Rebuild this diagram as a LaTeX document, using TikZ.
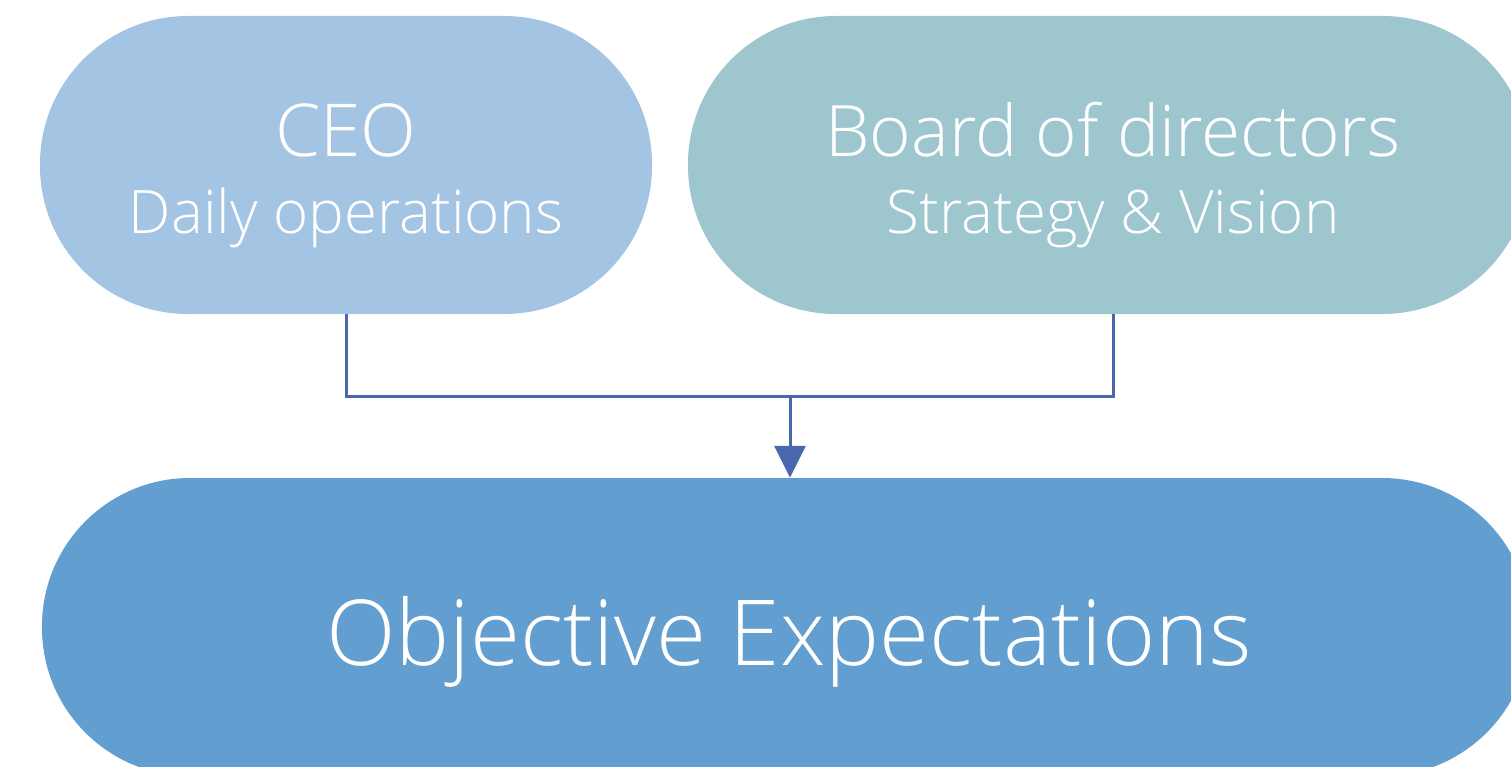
\documentclass[tikz,border=0pt]{standalone}
\usepackage{fontspec}
\setmainfont{Open Sans Light}
\usetikzlibrary{arrows.meta}
\definecolor{ceoc}{HTML}{A3C4E2}
\definecolor{boardc}{HTML}{9DC6CE}
\definecolor{objc}{HTML}{629ECF}
\definecolor{linec}{HTML}{4A66AC}
\tikzset{
  pill/.style={rectangle, rounded corners=148pt, draw=none, inner sep=0pt, minimum height=298pt},
  txt/.style={text=white, anchor=base, inner sep=0pt},
  conn/.style={draw=linec, line width=3pt},
}
\begin{document}
\begin{tikzpicture}[x=1pt,y=-1pt]
\useasboundingbox (0,0) rectangle (1511,767);
\clip (0,0) rectangle (1511,767);
\fill[white] (0,0) rectangle (1511,767);
\node[pill, fill=ceoc, minimum width=612pt] (ceo) at (346,165) {};
\node[pill, fill=boardc, minimum width=842pt] (board) at (1109,165) {};
\node[pill, fill=objc, minimum width=1488pt] (obj) at (786,627) {};
\node[txt, font=\fontsize{73}{78}\selectfont] (ceot) at (346,157) {CEO};
\node[txt, font=\fontsize{60}{64}\selectfont] (ceos) at (346,234) {Daily operations};
\node[txt, font=\fontsize{71}{76}\selectfont] (boardt) at (1113,157) {Board of directors};
\node[txt, font=\fontsize{60}{64}\selectfont] (boards) at (1113,234) {Strategy \& Vision};
\node[txt, font=\fontsize{91}{96}\selectfont] (objt) at (789,665) {Objective Expectations};
\coordinate (jn) at (790,396);
\draw[conn] (ceo.south) |- (jn) -| ([xshift=4pt]board.south);
\draw[conn, -{Triangle[width=31pt,length=32pt]}, fill=linec] (jn) -- (jn |- obj.north);
\end{tikzpicture}
\end{document}
